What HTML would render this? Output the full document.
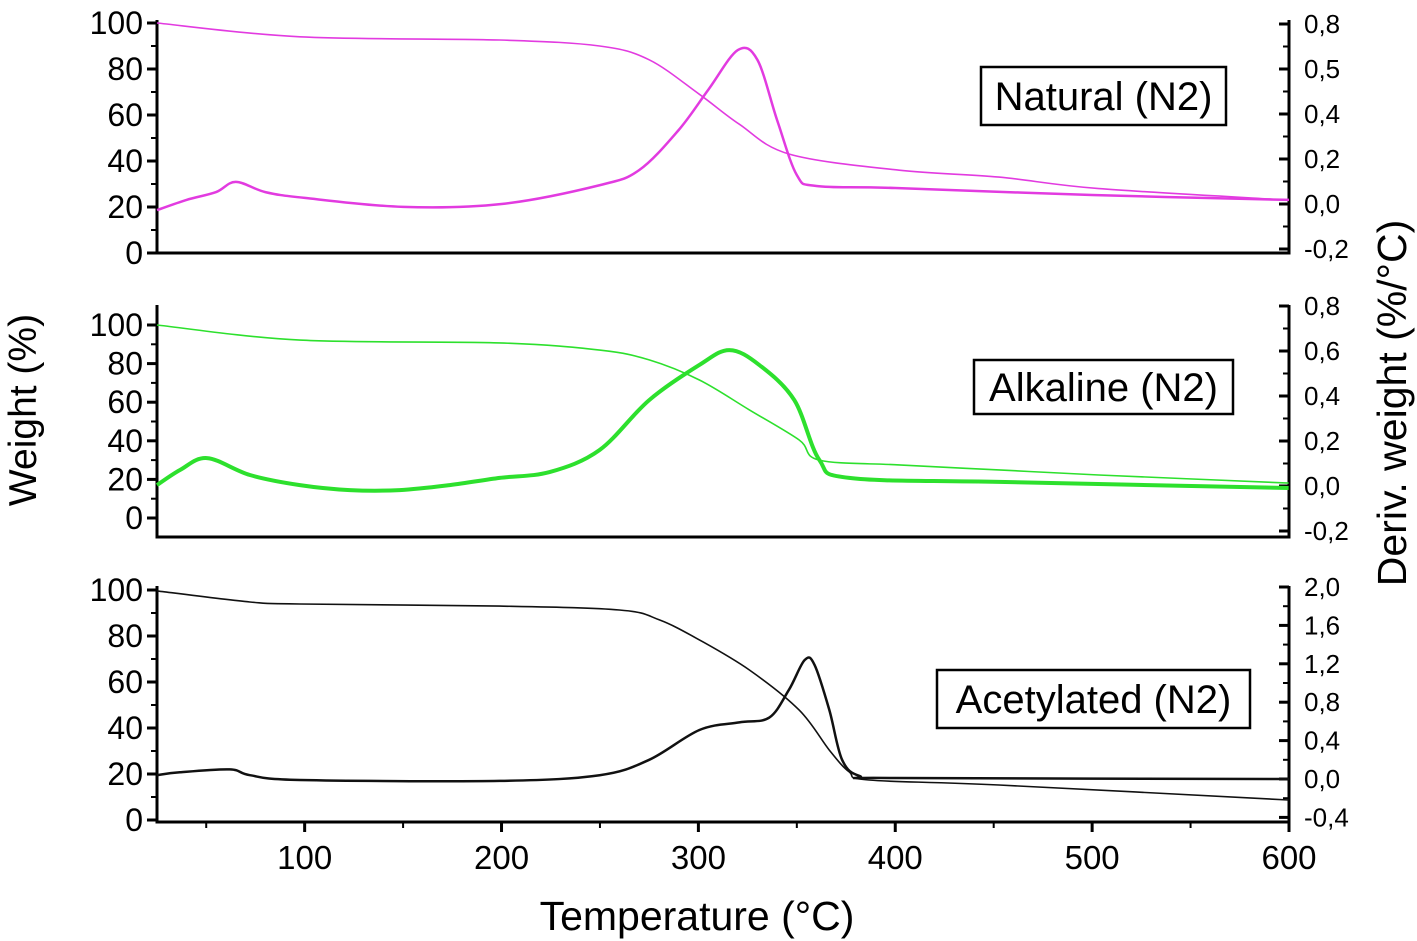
<!DOCTYPE html>
<html><head><meta charset="utf-8"><style>
html,body{margin:0;padding:0;background:#fff;}
svg{display:block;font-family:"Liberation Sans",Arial,sans-serif;}
</style></head><body>
<svg id="chart" width="1417" height="941" viewBox="0 0 1417 941" xmlns="http://www.w3.org/2000/svg">
<text x="0" y="0" transform="translate(36,410) rotate(-90)" text-anchor="middle" font-size="39">Weight (%)</text>
<text x="0" y="0" transform="translate(1406,403) rotate(-90)" text-anchor="middle" font-size="41">Deriv. weight (%/°C)</text>
<text x="697" y="930" text-anchor="middle" font-size="41">Temperature (°C)</text>
</svg>
<script>
// ----- data -----
const xTicks = [100, 200, 300, 400, 500, 600];
const weightTicks = [0, 20, 40, 60, 80, 100];
const natDerivTickVals = [-0.2, 0, 0.2, 0.4, 0.6, 0.8];
const natDerivTickLabels = ['-0,2', '0,0', '0,2', '0,4', '0,5', '0,8'];
const alkDerivTickVals = [-0.2, 0, 0.2, 0.4, 0.6, 0.8];
const alkDerivTickLabels = ['-0,2', '0,0', '0,2', '0,4', '0,6', '0,8'];
const aceDerivTickVals = [-0.4, 0, 0.4, 0.8, 1.2, 1.6, 2.0];
const aceDerivTickLabels = ['-0,4', '0,0', '0,4', '0,8', '1,2', '1,6', '2,0'];

const natWeightT = [25, 97.6, 199, 249.8, 275, 300.5, 320.8, 346.2, 402, 452.7, 503.4, 600];
const natWeight = [100, 94, 92.6, 90, 84, 69, 56, 43, 36, 33, 28, 23];
const natDerivT = [25, 40, 55, 65, 80, 100, 150, 200, 250, 270, 290, 305, 320, 330, 340, 350, 360, 400, 500, 600];
const natDeriv = [-0.027, 0.018, 0.053, 0.098, 0.053, 0.027, -0.013, 0, 0.084, 0.151, 0.329, 0.507, 0.684, 0.64, 0.373, 0.129, 0.08, 0.071, 0.04, 0.018];

const alkWeightT = [25, 97.6, 199, 249.8, 275, 300.5, 325.9, 351.2, 361.4, 402, 452.7, 503.4, 599.8];
const alkWeight = [100, 92.2, 90.7, 87, 81.9, 71.5, 56, 40.4, 30, 27.5, 24.9, 22.3, 18.1];
const alkDerivT = [25, 36.7, 50.4, 72.2, 97.6, 122.9, 148.3, 173.7, 199, 224.4, 249.8, 275, 300.5, 315.7, 330.9, 348.7, 361.4, 376.6, 452.7, 599.8];
const alkDeriv = [0.004, 0.071, 0.124, 0.049, 0.004, -0.018, -0.018, 0.004, 0.036, 0.062, 0.16, 0.382, 0.538, 0.604, 0.538, 0.382, 0.116, 0.036, 0.018, -0.009];

const aceWeightT = [25, 72.2, 97.6, 199, 259.9, 280.2, 300.5, 325.9, 351.2, 366.5, 376.6, 386.7, 452.7, 599.8];
const aceWeight = [99.6, 94.8, 93.9, 93, 91.3, 87, 78.3, 65.2, 47.8, 30.4, 20.9, 17.4, 15.2, 8.7];
const aceDerivT = [25, 36.7, 62, 72.2, 97.6, 199, 249.8, 275, 300.5, 320.8, 336, 346, 354, 359, 366.5, 373, 382, 400, 600];
const aceDeriv = [0.04, 0.07, 0.10, 0.04, -0.01, -0.02, 0.04, 0.2, 0.51, 0.59, 0.64, 0.93, 1.24, 1.19, 0.72, 0.2, 0.03, 0.01, 0.0];

// ----- drawing -----
const NS = 'http://www.w3.org/2000/svg';
const svg = document.getElementById('chart');
const X0 = 157, X1 = 1289, T0 = 25, T1 = 600;
const xs = t => X0 + (t - T0) / (T1 - T0) * (X1 - X0);
function mk(tag, attrs) { const e = document.createElementNS(NS, tag); for (const k in attrs) e.setAttribute(k, attrs[k]); return e; }
function smoothPath(pts) {
  let d = `M${pts[0][0].toFixed(1)},${pts[0][1].toFixed(1)}`;
  for (let i = 0; i < pts.length - 1; i++) {
    const p0 = pts[Math.max(0, i-1)], p1 = pts[i], p2 = pts[i+1], p3 = pts[Math.min(pts.length-1, i+2)];
    const c1x = p1[0] + (p2[0]-p0[0])/6, c1y = p1[1] + (p2[1]-p0[1])/6;
    const c2x = p2[0] - (p3[0]-p1[0])/6, c2y = p2[1] - (p3[1]-p1[1])/6;
    d += ` C${c1x.toFixed(1)},${c1y.toFixed(1)} ${c2x.toFixed(1)},${c2y.toFixed(1)} ${p2[0].toFixed(1)},${p2[1].toFixed(1)}`;
  }
  return d;
}

const panels = [
  {key:'natural', top:20, bottom:253, w0:253, w100:23, d0:204, dPerUnit:225, dVals:natDerivTickVals, dLabels:natDerivTickLabels,
   wT:natWeightT, w:natWeight, dT:natDerivT, d:natDeriv, color:'#e23be0', legend:'Natural (N2)', box:[981,67,245,58]},
  {key:'alkaline', top:305, bottom:537, w0:518, w100:325, d0:486, dPerUnit:225, dVals:alkDerivTickVals, dLabels:alkDerivTickLabels,
   wT:alkWeightT, w:alkWeight, dT:alkDerivT, d:alkDeriv, color:'#2de02d', legend:'Alkaline (N2)', box:[974,360,259,54]},
  {key:'acetylated', top:586, bottom:822, w0:820, w100:590, d0:779, dPerUnit:96, dVals:aceDerivTickVals, dLabels:aceDerivTickLabels,
   wT:aceWeightT, w:aceWeight, dT:aceDerivT, d:aceDeriv, color:'#111', legend:'Acetylated (N2)', box:[937,670,313,58]}
];

panels.forEach((p, i) => {
  const g = mk('g', {});
  
  
  svg.appendChild(g);
  const wy = v => p.w0 - v / 100 * (p.w0 - p.w100);
  const dy = v => p.d0 - v * p.dPerUnit;
  const axes = mk('path', {d:`M${X0},${p.top} V${p.bottom} H${X1} V${p.top}`, fill:'none', stroke:'#000', 'stroke-width':3});
  
  
  g.appendChild(axes);
  weightTicks.forEach((v, j) => {
    const y = wy(v);
    const t = mk('line', {x1:X0-10, x2:X0, y1:y, y2:y, stroke:'#000', 'stroke-width':3});
    
    
    g.appendChild(t);
    if (j < weightTicks.length - 1) {
      const ym = wy(v + 10);
      const m = mk('line', {x1:X0-6, x2:X0, y1:ym, y2:ym, stroke:'#000', 'stroke-width':2});
      
      
      g.appendChild(m);
    }
    const lb = mk('text', {x:X0-14, y:y+11, 'text-anchor':'end', 'font-size':32});
    lb.textContent = v;
    
    
    g.appendChild(lb);
  });
  p.dVals.forEach((v, j) => {
    const y = dy(v);
    const t = mk('line', {x1:X1-10, x2:X1, y1:y, y2:y, stroke:'#000', 'stroke-width':3});
    
    
    g.appendChild(t);
    if (j < p.dVals.length - 1) {
      const ym = dy((v + p.dVals[j+1]) / 2);
      const m = mk('line', {x1:X1-6, x2:X1, y1:ym, y2:ym, stroke:'#000', 'stroke-width':2});
      
      
      g.appendChild(m);
    }
    const lb = mk('text', {x:X1+15, y:y+9, 'font-size':26});
    lb.textContent = p.dLabels[j];
    
    
    g.appendChild(lb);
  });
  const wl = mk('path', {d:smoothPath(p.wT.map((t, k) => [xs(t), wy(p.w[k])])), fill:'none', stroke:p.color, 'stroke-width':1.6});
  
  
  g.appendChild(wl);
  const dl = mk('path', {d:smoothPath(p.dT.map((t, k) => [xs(t), dy(p.d[k])])), fill:'none', stroke:p.color, 'stroke-width':i===1?4:2.5, 'stroke-linejoin':'round'});
  
  
  g.appendChild(dl);
  const b = p.box;
  const r = mk('rect', {x:b[0], y:b[1], width:b[2], height:b[3], fill:'#fff', stroke:'#000', 'stroke-width':2.5});
  
  
  g.appendChild(r);
  const lt = mk('text', {x:b[0]+b[2]/2, y:b[1]+b[3]/2+14, 'text-anchor':'middle', 'font-size':40});
  lt.textContent = p.legend;
  
  
  g.appendChild(lt);
});

xTicks.forEach(v => {
  const x = xs(v);
  const t = mk('line', {x1:x, x2:x, y1:822, y2:832, stroke:'#000', 'stroke-width':3});
  
  
  svg.appendChild(t);
  const m = mk('line', {x1:xs(v-50), x2:xs(v-50), y1:822, y2:828, stroke:'#000', 'stroke-width':2});
  
  
  svg.appendChild(m);
  const lb = mk('text', {x:x, y:869, 'text-anchor':'middle', 'font-size':33});
  lb.textContent = v;
  
  
  svg.appendChild(lb);
});
</script>
</body></html>
